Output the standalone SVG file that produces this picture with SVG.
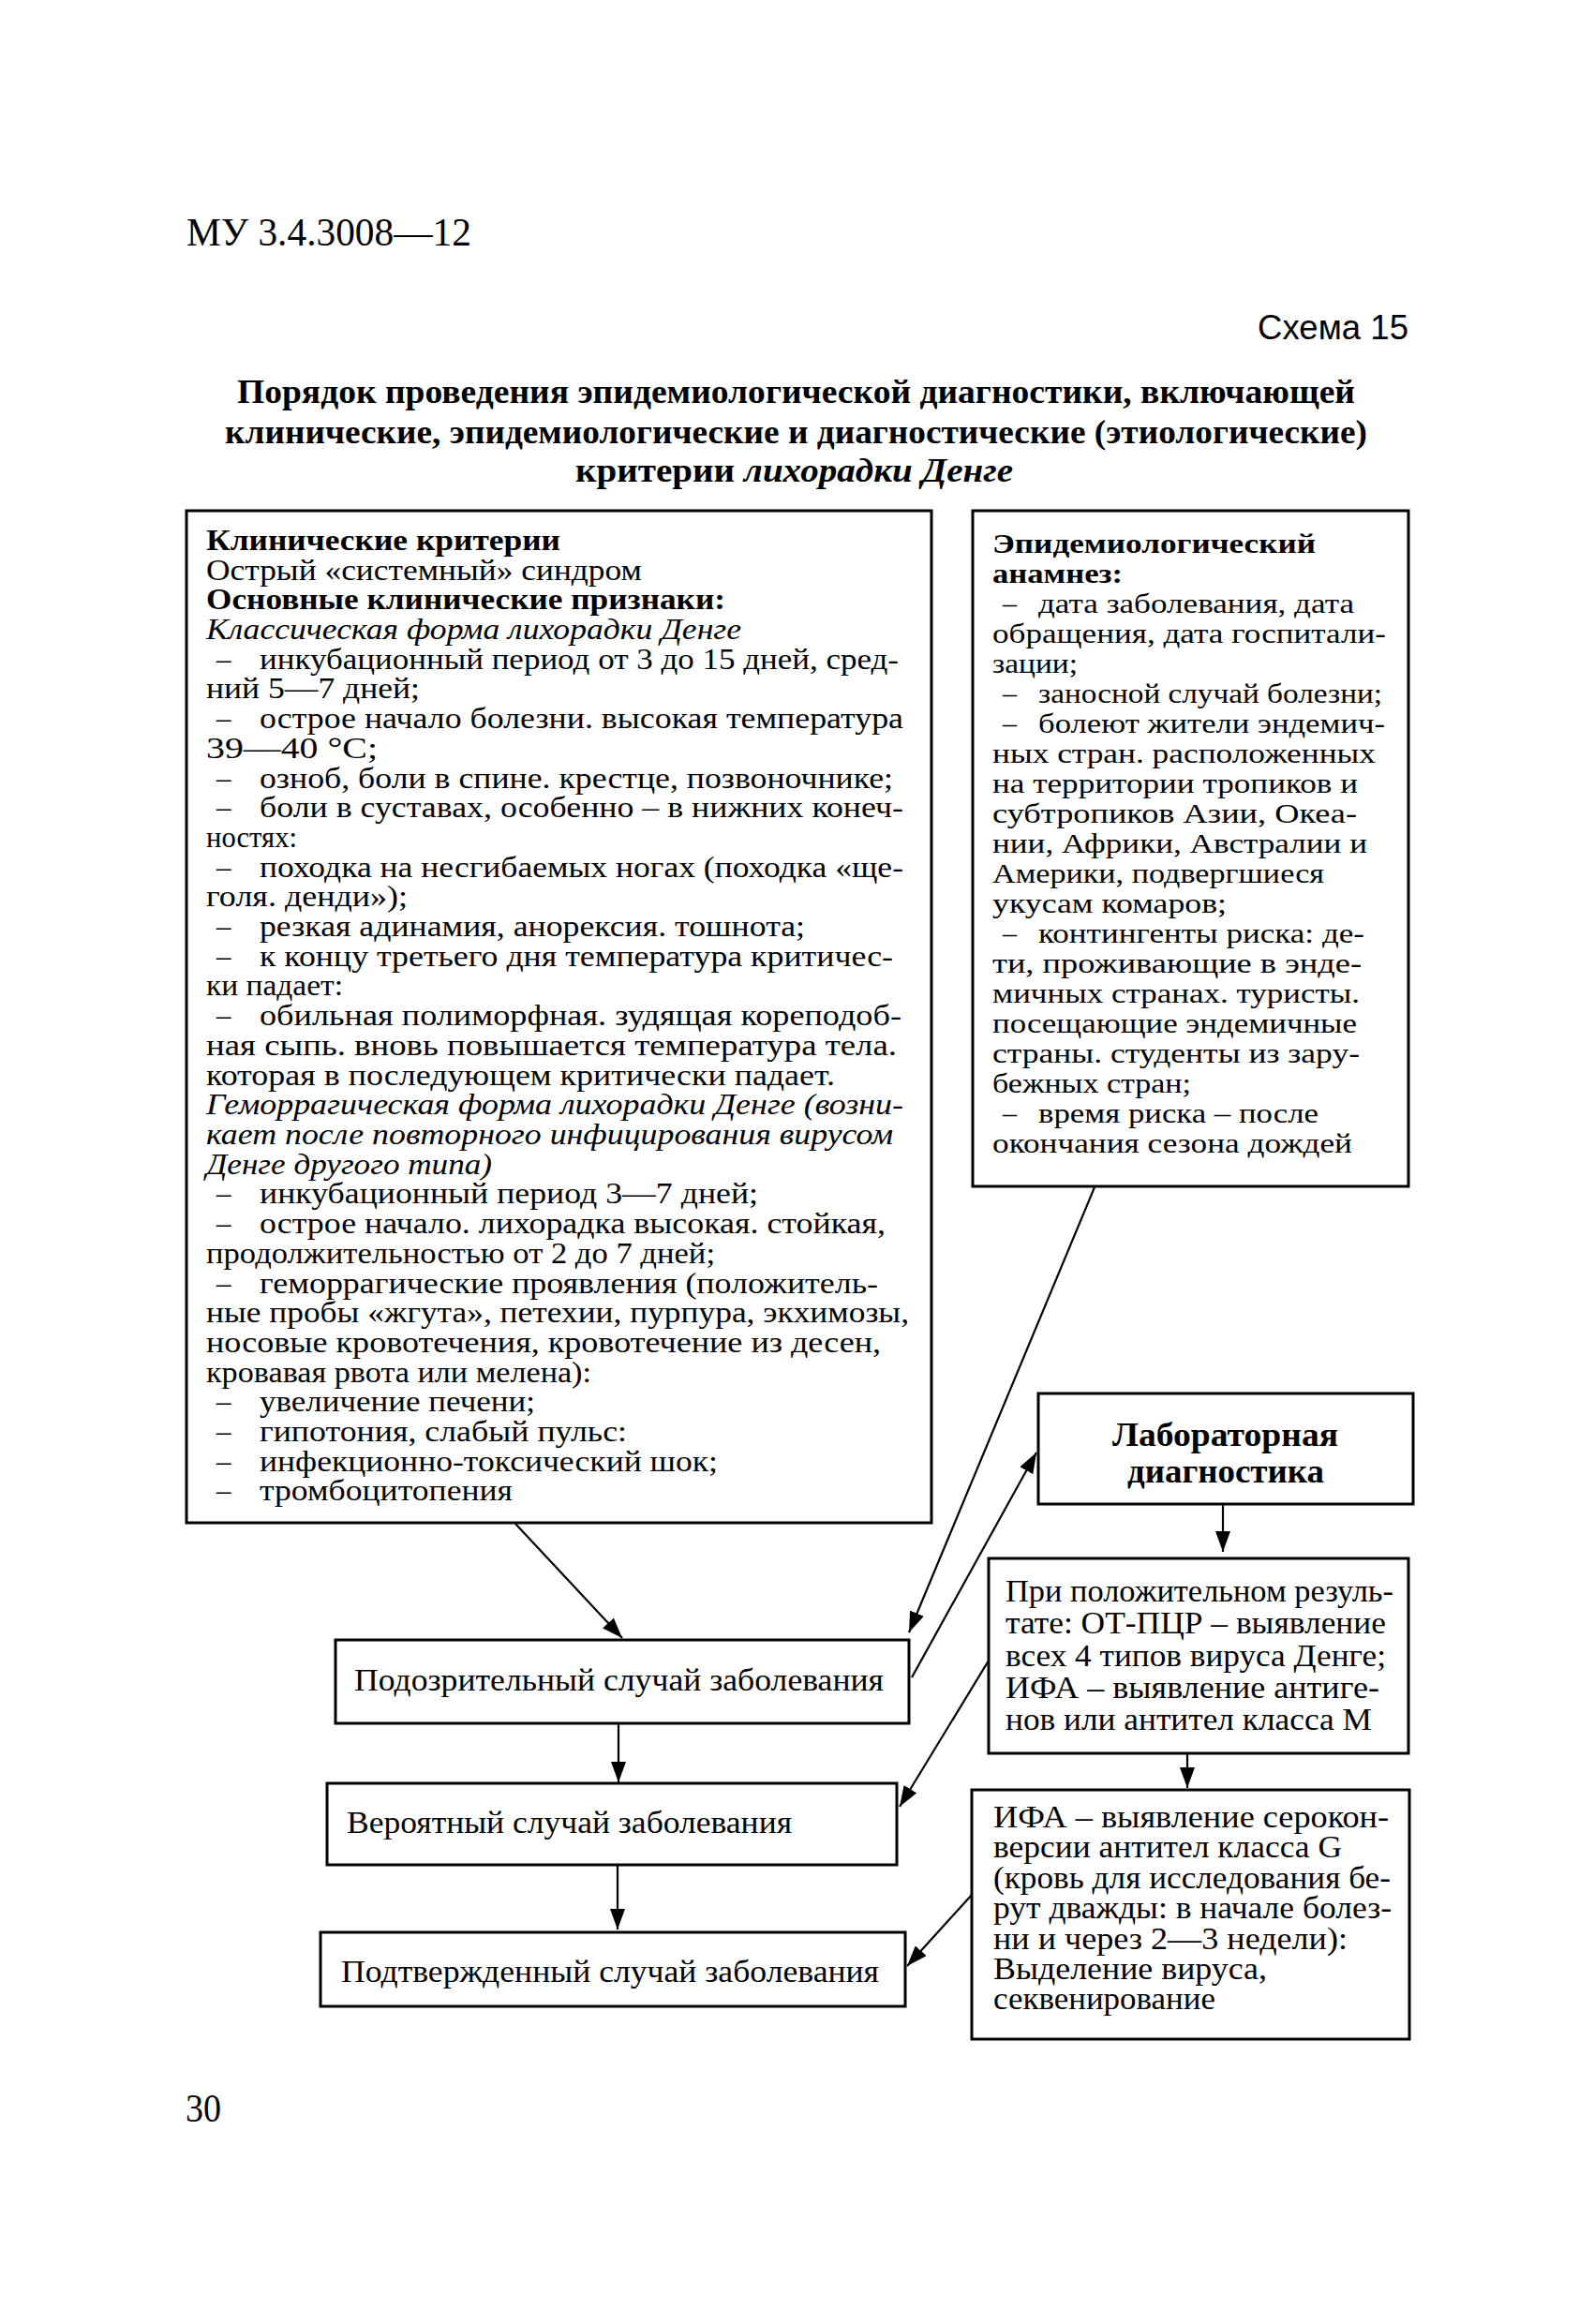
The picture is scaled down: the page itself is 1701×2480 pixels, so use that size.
<svg xmlns="http://www.w3.org/2000/svg" width="1701" height="2480" viewBox="0 0 1701 2480">
<style>
.bg{fill:#fff}
.box{fill:#fff;stroke:#000;stroke-width:3}
.t{font-family:"Liberation Serif","Times New Roman",serif;font-size:31px;fill:#000}
.b{font-weight:bold}
.i{font-style:italic}
.w{font-size:30px}
.m{font-size:33px}
.lab{font-size:36px;font-weight:bold}
.ttl{font-family:"Liberation Serif","Times New Roman",serif;font-size:36px;font-weight:bold;fill:#000}
.hdr{font-family:"Liberation Serif","Times New Roman",serif;font-size:42px;fill:#000}
.sch{font-family:"Liberation Sans",Arial,sans-serif;font-size:37px;fill:#000}
.ln{stroke:#000;stroke-width:2.2;fill:none}
</style>
<defs>
<marker id="ah" markerUnits="userSpaceOnUse" markerWidth="24" markerHeight="16" refX="22" refY="8" orient="auto">
<path d="M0,0 L22,8 L0,16 z" fill="#000"/>
</marker>
</defs>
<rect class="bg" x="0" y="0" width="1701" height="2480"/>

<text class="hdr" x="199" y="262" textLength="304" lengthAdjust="spacingAndGlyphs">МУ 3.4.3008—12</text>
<text class="sch" x="1342" y="362" textLength="161" lengthAdjust="spacingAndGlyphs">Схема 15</text>
<text class="ttl" x="253" y="430" textLength="1193" lengthAdjust="spacingAndGlyphs">Порядок проведения эпидемиологической диагностики, включающей</text>
<text class="ttl" x="240" y="473" textLength="1219" lengthAdjust="spacingAndGlyphs">клинические, эпидемиологические и диагностические (этиологические)</text>
<text class="ttl" x="614" y="514" textLength="467" lengthAdjust="spacingAndGlyphs">критерии <tspan font-style="italic">лихорадки Денге</tspan></text>

<g id="clinical">
<rect class="box" x="199" y="545" width="795" height="1080"/>
<text class="t b" x="220" y="587" textLength="378" lengthAdjust="spacingAndGlyphs">Клинические критерии</text>
<text class="t" x="220" y="619" textLength="465" lengthAdjust="spacingAndGlyphs">Острый «системный» синдром</text>
<text class="t b" x="220" y="650" textLength="554" lengthAdjust="spacingAndGlyphs">Основные клинические признаки:</text>
<text class="t i" x="220" y="682" textLength="571" lengthAdjust="spacingAndGlyphs">Классическая форма лихорадки Денге</text>
<text class="t" x="231" y="714">–</text><text class="t" x="277" y="714" textLength="682" lengthAdjust="spacingAndGlyphs">инкубационный период от 3 до 15 дней, сред-</text>
<text class="t" x="220" y="745" textLength="228" lengthAdjust="spacingAndGlyphs">ний 5—7 дней;</text>
<text class="t" x="231" y="777">–</text><text class="t" x="277" y="777" textLength="687" lengthAdjust="spacingAndGlyphs">острое начало болезни. высокая температура</text>
<text class="t" x="220" y="809" textLength="183" lengthAdjust="spacingAndGlyphs">39—40 °С;</text>
<text class="t" x="231" y="841">–</text><text class="t" x="277" y="841" textLength="676" lengthAdjust="spacingAndGlyphs">озноб, боли в спине. крестце, позвоночнике;</text>
<text class="t" x="231" y="872">–</text><text class="t" x="277" y="872" textLength="687" lengthAdjust="spacingAndGlyphs">боли в суставах, особенно – в нижних конеч-</text>
<text class="t" x="220" y="904" textLength="97" lengthAdjust="spacingAndGlyphs">ностях:</text>
<text class="t" x="231" y="936">–</text><text class="t" x="277" y="936" textLength="687" lengthAdjust="spacingAndGlyphs">походка на несгибаемых ногах (походка «ще-</text>
<text class="t" x="220" y="967" textLength="215" lengthAdjust="spacingAndGlyphs">голя. денди»);</text>
<text class="t" x="231" y="999">–</text><text class="t" x="277" y="999" textLength="582" lengthAdjust="spacingAndGlyphs">резкая адинамия, анорексия. тошнота;</text>
<text class="t" x="231" y="1031">–</text><text class="t" x="277" y="1031" textLength="676" lengthAdjust="spacingAndGlyphs">к концу третьего дня температура критичес-</text>
<text class="t" x="220" y="1062" textLength="146" lengthAdjust="spacingAndGlyphs">ки падает:</text>
<text class="t" x="231" y="1094">–</text><text class="t" x="277" y="1094" textLength="685" lengthAdjust="spacingAndGlyphs">обильная полиморфная. зудящая кореподоб-</text>
<text class="t" x="220" y="1126" textLength="737" lengthAdjust="spacingAndGlyphs">ная сыпь. вновь повышается температура тела.</text>
<text class="t" x="220" y="1158" textLength="671" lengthAdjust="spacingAndGlyphs">которая в последующем критически падает.</text>
<text class="t i" x="220" y="1189" textLength="744" lengthAdjust="spacingAndGlyphs">Геморрагическая форма лихорадки Денге (возни-</text>
<text class="t i" x="220" y="1221" textLength="733" lengthAdjust="spacingAndGlyphs">кает после повторного инфицирования вирусом</text>
<text class="t i" x="220" y="1253" textLength="305" lengthAdjust="spacingAndGlyphs">Денге другого типа)</text>
<text class="t" x="231" y="1284">–</text><text class="t" x="277" y="1284" textLength="532" lengthAdjust="spacingAndGlyphs">инкубационный период 3—7 дней;</text>
<text class="t" x="231" y="1316">–</text><text class="t" x="277" y="1316" textLength="668" lengthAdjust="spacingAndGlyphs">острое начало. лихорадка высокая. стойкая,</text>
<text class="t" x="220" y="1348" textLength="543" lengthAdjust="spacingAndGlyphs">продолжительностью от 2 до 7 дней;</text>
<text class="t" x="231" y="1380">–</text><text class="t" x="277" y="1380" textLength="660" lengthAdjust="spacingAndGlyphs">геморрагические проявления (положитель-</text>
<text class="t" x="220" y="1411" textLength="750" lengthAdjust="spacingAndGlyphs">ные пробы «жгута», петехии, пурпура, экхимозы,</text>
<text class="t" x="220" y="1443" textLength="720" lengthAdjust="spacingAndGlyphs">носовые кровотечения, кровотечение из десен,</text>
<text class="t" x="220" y="1475" textLength="411" lengthAdjust="spacingAndGlyphs">кровавая рвота или мелена):</text>
<text class="t" x="231" y="1506">–</text><text class="t" x="277" y="1506" textLength="294" lengthAdjust="spacingAndGlyphs">увеличение печени;</text>
<text class="t" x="231" y="1538">–</text><text class="t" x="277" y="1538" textLength="392" lengthAdjust="spacingAndGlyphs">гипотония, слабый пульс:</text>
<text class="t" x="231" y="1570">–</text><text class="t" x="277" y="1570" textLength="489" lengthAdjust="spacingAndGlyphs">инфекционно-токсический шок;</text>
<text class="t" x="231" y="1601">–</text><text class="t" x="277" y="1601" textLength="270" lengthAdjust="spacingAndGlyphs">тромбоцитопения</text>
</g>

<g id="epi">
<rect class="box" x="1038" y="545" width="465" height="721"/>
<text class="t w b" x="1059" y="590" textLength="345" lengthAdjust="spacingAndGlyphs">Эпидемиологический</text>
<text class="t w b" x="1059" y="622" textLength="139" lengthAdjust="spacingAndGlyphs">анамнез:</text>
<text class="t w" x="1070" y="654">–</text><text class="t w" x="1108" y="654" textLength="337" lengthAdjust="spacingAndGlyphs">дата заболевания, дата</text>
<text class="t w" x="1059" y="686" textLength="420" lengthAdjust="spacingAndGlyphs">обращения, дата госпитали-</text>
<text class="t w" x="1059" y="718" textLength="91" lengthAdjust="spacingAndGlyphs">зации;</text>
<text class="t w" x="1070" y="750">–</text><text class="t w" x="1108" y="750" textLength="367" lengthAdjust="spacingAndGlyphs">заносной случай болезни;</text>
<text class="t w" x="1070" y="782">–</text><text class="t w" x="1108" y="782" textLength="370" lengthAdjust="spacingAndGlyphs">болеют жители эндемич-</text>
<text class="t w" x="1059" y="814" textLength="409" lengthAdjust="spacingAndGlyphs">ных стран. расположенных</text>
<text class="t w" x="1059" y="846" textLength="390" lengthAdjust="spacingAndGlyphs">на территории тропиков и</text>
<text class="t w" x="1059" y="878" textLength="389" lengthAdjust="spacingAndGlyphs">субтропиков Азии, Океа-</text>
<text class="t w" x="1059" y="910" textLength="400" lengthAdjust="spacingAndGlyphs">нии, Африки, Австралии и</text>
<text class="t w" x="1059" y="942" textLength="354" lengthAdjust="spacingAndGlyphs">Америки, подвергшиеся</text>
<text class="t w" x="1059" y="974" textLength="250" lengthAdjust="spacingAndGlyphs">укусам комаров;</text>
<text class="t w" x="1070" y="1006">–</text><text class="t w" x="1108" y="1006" textLength="348" lengthAdjust="spacingAndGlyphs">контингенты риска: де-</text>
<text class="t w" x="1059" y="1038" textLength="394" lengthAdjust="spacingAndGlyphs">ти, проживающие в энде-</text>
<text class="t w" x="1059" y="1070" textLength="392" lengthAdjust="spacingAndGlyphs">мичных странах. туристы.</text>
<text class="t w" x="1059" y="1102" textLength="389" lengthAdjust="spacingAndGlyphs">посещающие эндемичные</text>
<text class="t w" x="1059" y="1134" textLength="392" lengthAdjust="spacingAndGlyphs">страны. студенты из зару-</text>
<text class="t w" x="1059" y="1166" textLength="212" lengthAdjust="spacingAndGlyphs">бежных стран;</text>
<text class="t w" x="1070" y="1198">–</text><text class="t w" x="1108" y="1198" textLength="299" lengthAdjust="spacingAndGlyphs">время риска – после</text>
<text class="t w" x="1059" y="1230" textLength="384" lengthAdjust="spacingAndGlyphs">окончания сезона дождей</text>
</g>

<g id="lab">
<rect class="box" x="1108" y="1487" width="400" height="118"/>
<text class="t lab" x="1187" y="1543" textLength="241" lengthAdjust="spacingAndGlyphs">Лабораторная</text>
<text class="t lab" x="1203" y="1582" textLength="210" lengthAdjust="spacingAndGlyphs">диагностика</text>
</g>

<g id="pcr">
<rect class="box" x="1055" y="1663" width="448" height="208"/>
<text class="t m" x="1073" y="1709" textLength="414" lengthAdjust="spacingAndGlyphs">При положительном резуль-</text>
<text class="t m" x="1073" y="1743" textLength="406" lengthAdjust="spacingAndGlyphs">тате: ОТ-ПЦР – выявление</text>
<text class="t m" x="1073" y="1778" textLength="406" lengthAdjust="spacingAndGlyphs">всех 4 типов вируса Денге;</text>
<text class="t m" x="1073" y="1812" textLength="399" lengthAdjust="spacingAndGlyphs">ИФА – выявление антиге-</text>
<text class="t m" x="1073" y="1846" textLength="391" lengthAdjust="spacingAndGlyphs">нов или антител класса М</text>
</g>

<g id="ifa">
<rect class="box" x="1037" y="1910" width="467" height="266"/>
<text class="t m" x="1060" y="1950" textLength="422" lengthAdjust="spacingAndGlyphs">ИФА – выявление серокон-</text>
<text class="t m" x="1060" y="1982" textLength="372" lengthAdjust="spacingAndGlyphs">версии антител класса G</text>
<text class="t m" x="1060" y="2015" textLength="424" lengthAdjust="spacingAndGlyphs">(кровь для исследования бе-</text>
<text class="t m" x="1060" y="2047" textLength="425" lengthAdjust="spacingAndGlyphs">рут дважды: в начале болез-</text>
<text class="t m" x="1060" y="2080" textLength="378" lengthAdjust="spacingAndGlyphs">ни и через 2—3 недели):</text>
<text class="t m" x="1060" y="2112" textLength="292" lengthAdjust="spacingAndGlyphs">Выделение вируса,</text>
<text class="t m" x="1060" y="2144" textLength="237" lengthAdjust="spacingAndGlyphs">секвенирование</text>
</g>

<g id="suspected">
<rect class="box" x="358" y="1750" width="612" height="89"/>
<text class="t m" x="378" y="1804" textLength="565" lengthAdjust="spacingAndGlyphs">Подозрительный случай заболевания</text>
</g>

<g id="probable">
<rect class="box" x="349" y="1903" width="608" height="87"/>
<text class="t m" x="370" y="1956" textLength="475" lengthAdjust="spacingAndGlyphs">Вероятный случай заболевания</text>
</g>

<g id="confirmed">
<rect class="box" x="342" y="2062" width="624" height="79"/>
<text class="t m" x="364" y="2115" textLength="574" lengthAdjust="spacingAndGlyphs">Подтвержденный случай заболевания</text>
</g>

<g id="connectors">
<line class="ln" x1="550" y1="1626" x2="664" y2="1748" marker-end="url(#ah)"/>
<line class="ln" x1="1168" y1="1267" x2="970" y2="1742" marker-end="url(#ah)"/>
<line class="ln" x1="973" y1="1790" x2="1106" y2="1550" marker-end="url(#ah)"/>
<line class="ln" x1="1305" y1="1606" x2="1305" y2="1656" marker-end="url(#ah)"/>
<line class="ln" x1="1055" y1="1772" x2="960" y2="1928" marker-end="url(#ah)"/>
<line class="ln" x1="1267" y1="1872" x2="1267" y2="1908" marker-end="url(#ah)"/>
<line class="ln" x1="1037" y1="2022" x2="968" y2="2098" marker-end="url(#ah)"/>
<line class="ln" x1="660" y1="1840" x2="660" y2="1902" marker-end="url(#ah)"/>
<line class="ln" x1="659" y1="1991" x2="659" y2="2059" marker-end="url(#ah)"/>
</g>

<text class="hdr" x="198" y="2264" font-size="40" textLength="38" lengthAdjust="spacingAndGlyphs">30</text>
</svg>
